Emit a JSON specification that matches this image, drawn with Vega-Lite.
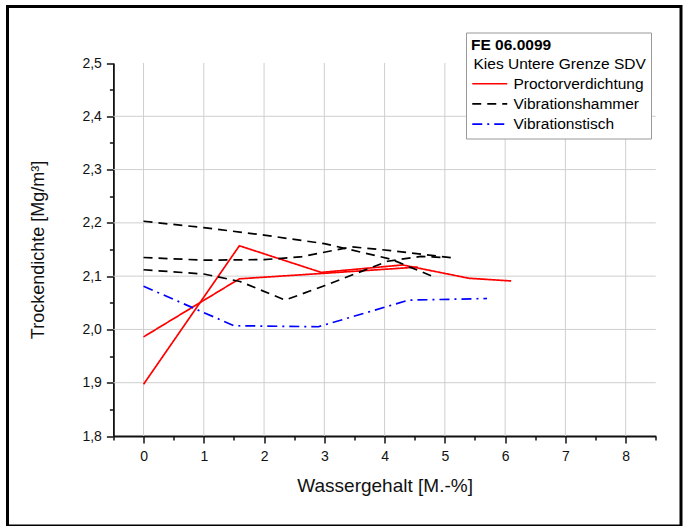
{
  "$schema": "https://vega.github.io/schema/vega-lite/v6.json",
  "width": 673.5,
  "height": 519.5,
  "autosize": {"type": "none"},
  "padding": {"left": 7.5, "top": 6.5, "right": 8, "bottom": 0},
  "background": "white",
  "config": {
    "font": "Liberation Sans",
    "view": {"stroke": "black", "strokeWidth": 3},
    "axis": {
      "grid": false,
      "domainColor": "#111111",
      "domainWidth": 1.8,
      "tickColor": "#111111",
      "tickWidth": 1.5,
      "labelColor": "#111111",
      "labelFontSize": 14,
      "titleColor": "#111111",
      "titleFontWeight": "normal"
    },
    "legend": {
      "orient": "none",
      "legendX": 458.5,
      "legendY": 26,
      "padding": 5,
      "fillColor": "white",
      "strokeColor": "#999999",
      "strokeWidth": 1,
      "titleFontSize": 15.5,
      "titleFontWeight": "bold",
      "titleColor": "#000000",
      "titlePadding": 0.5,
      "titleLimit": 400,
      "labelFontSize": 15.5,
      "labelColor": "#000000",
      "labelLimit": 400,
      "labelOffset": 22.5,
      "symbolType": "M-1,0H3",
      "symbolSize": 306.25,
      "symbolStrokeWidth": 1.6,
      "rowPadding": 1.2
    }
  },
  "datasets": {
    "gridx": [{"v": 0}, {"v": 1}, {"v": 2}, {"v": 3}, {"v": 4}, {"v": 5}, {"v": 6}, {"v": 7}, {"v": 8}],
    "gridy": [{"v": 1.9}, {"v": 2.0}, {"v": 2.1}, {"v": 2.2}, {"v": 2.3}, {"v": 2.4}],
    "curves": [
      {"serie": "Proctorverdichtung", "run": "P1", "x": 0, "y": 1.897},
      {"serie": "Proctorverdichtung", "run": "P1", "x": 1.59, "y": 2.157},
      {"serie": "Proctorverdichtung", "run": "P1", "x": 2.95, "y": 2.107},
      {"serie": "Proctorverdichtung", "run": "P1", "x": 4.3, "y": 2.121},
      {"serie": "Proctorverdichtung", "run": "P1", "x": 5.4, "y": 2.096},
      {"serie": "Proctorverdichtung", "run": "P1", "x": 6.1, "y": 2.091},
      {"serie": "Proctorverdichtung", "run": "P2", "x": 0, "y": 1.986},
      {"serie": "Proctorverdichtung", "run": "P2", "x": 1.59, "y": 2.095},
      {"serie": "Proctorverdichtung", "run": "P2", "x": 2.95, "y": 2.105},
      {"serie": "Proctorverdichtung", "run": "P2", "x": 4.55, "y": 2.117},
      {"serie": "Vibrationshammer", "run": "H1", "x": 0, "y": 2.203},
      {"serie": "Vibrationshammer", "run": "H1", "x": 1, "y": 2.191},
      {"serie": "Vibrationshammer", "run": "H1", "x": 2, "y": 2.177},
      {"serie": "Vibrationshammer", "run": "H1", "x": 3, "y": 2.161},
      {"serie": "Vibrationshammer", "run": "H1", "x": 4.1, "y": 2.132},
      {"serie": "Vibrationshammer", "run": "H1", "x": 4.85, "y": 2.097},
      {"serie": "Vibrationshammer", "run": "H2", "x": 0, "y": 2.135},
      {"serie": "Vibrationshammer", "run": "H2", "x": 1, "y": 2.13},
      {"serie": "Vibrationshammer", "run": "H2", "x": 2, "y": 2.131},
      {"serie": "Vibrationshammer", "run": "H2", "x": 2.6, "y": 2.136},
      {"serie": "Vibrationshammer", "run": "H2", "x": 3.45, "y": 2.155},
      {"serie": "Vibrationshammer", "run": "H2", "x": 4.1, "y": 2.148},
      {"serie": "Vibrationshammer", "run": "H2", "x": 5.15, "y": 2.134},
      {"serie": "Vibrationshammer", "run": "H3", "x": 0, "y": 2.112},
      {"serie": "Vibrationshammer", "run": "H3", "x": 1, "y": 2.104},
      {"serie": "Vibrationshammer", "run": "H3", "x": 1.6, "y": 2.09},
      {"serie": "Vibrationshammer", "run": "H3", "x": 2.35, "y": 2.055},
      {"serie": "Vibrationshammer", "run": "H3", "x": 3, "y": 2.082},
      {"serie": "Vibrationshammer", "run": "H3", "x": 4.05, "y": 2.128},
      {"serie": "Vibrationshammer", "run": "H3", "x": 4.6, "y": 2.137},
      {"serie": "Vibrationshammer", "run": "H3", "x": 4.95, "y": 2.135},
      {"serie": "Vibrationstisch", "run": "T1", "x": 0, "y": 2.081},
      {"serie": "Vibrationstisch", "run": "T1", "x": 1.5, "y": 2.007},
      {"serie": "Vibrationstisch", "run": "T1", "x": 2.9, "y": 2.005},
      {"serie": "Vibrationstisch", "run": "T1", "x": 4.4, "y": 2.055},
      {"serie": "Vibrationstisch", "run": "T1", "x": 5.7, "y": 2.058}
    ]
  },
  "layer": [
    {
      "data": {"name": "gridx"},
      "mark": {"type": "rule", "color": "#cfcfcf", "strokeWidth": 1},
      "encoding": {
        "x": {
          "field": "v",
          "type": "quantitative",
          "axis": {
            "orient": "bottom",
            "offset": -90,
            "values": [0, 1, 2, 3, 4, 5, 6, 7, 8],
            "tickSize": 7,
            "labelPadding": 6,
            "title": "Wassergehalt [M.-%]",
            "titleFontSize": 19,
            "titlePadding": 13
          }
        },
        "y": {"datum": 1.8, "type": "quantitative", "axis": null},
        "y2": {"datum": 2.5}
      }
    },
    {
      "data": {"name": "gridy"},
      "mark": {"type": "rule", "color": "#cfcfcf", "strokeWidth": 1},
      "encoding": {
        "y": {
          "field": "v",
          "type": "quantitative",
          "axis": {
            "orient": "left",
            "offset": -105.9,
            "values": [1.8, 1.9, 2.0, 2.1, 2.2, 2.3, 2.4, 2.5],
            "labelExpr": "replace(format(datum.value, '.1f'), '.', ',')",
            "tickSize": 7,
            "labelPadding": 5,
            "title": "Trockendichte [Mg/m³]",
            "titleFontSize": 18,
            "titlePadding": 34
          }
        },
        "x": {"datum": -0.5, "type": "quantitative", "axis": null},
        "x2": {"datum": 8.5}
      }
    },
    {
      "data": {"name": "curves"},
      "mark": {"type": "line", "strokeWidth": 1.7},
      "encoding": {
        "x": {
          "field": "x",
          "type": "quantitative",
          "scale": {"domain": [-0.5, 8.5], "range": [105.9, 648.3], "nice": false, "zero": false},
          "axis": {
            "orient": "bottom",
            "offset": -90,
            "values": [-0.5, 0.5, 1.5, 2.5, 3.5, 4.5, 5.5, 6.5, 7.5, 8.5],
            "tickSize": 4,
            "labels": false,
            "domain": false,
            "title": null
          }
        },
        "y": {
          "field": "y",
          "type": "quantitative",
          "scale": {"domain": [1.8, 2.5], "range": [429.5, 56.5], "nice": false, "zero": false},
          "axis": {
            "orient": "left",
            "offset": -105.9,
            "values": [1.85, 1.95, 2.05, 2.15, 2.25, 2.35, 2.45],
            "tickSize": 4,
            "labels": false,
            "domain": false,
            "title": null
          }
        },
        "detail": {"field": "run"},
        "color": {
          "field": "serie",
          "type": "nominal",
          "scale": {
            "domain": ["Kies Untere Grenze SDV", "Proctorverdichtung", "Vibrationshammer", "Vibrationstisch"],
            "range": ["transparent", "#ff0000", "#000000", "#0000ff"]
          },
          "legend": {
            "title": "FE 06.0099",
            "encode": {
              "labels": {"update": {"dx": {"signal": "datum.value === 'Kies Untere Grenze SDV' ? -40 : 0"}}}
            }
          }
        },
        "strokeDash": {
          "field": "serie",
          "type": "nominal",
          "scale": {
            "domain": ["Kies Untere Grenze SDV", "Proctorverdichtung", "Vibrationshammer", "Vibrationstisch"],
            "range": [[1, 0], [1, 0], [9, 6], [10, 5, 2, 5]]
          },
          "legend": {
            "title": "FE 06.0099",
            "encode": {
              "labels": {"update": {"dx": {"signal": "datum.value === 'Kies Untere Grenze SDV' ? -40 : 0"}}}
            }
          }
        }
      }
    }
  ],
  "resolve": {"axis": {"x": "independent", "y": "independent"}}
}
